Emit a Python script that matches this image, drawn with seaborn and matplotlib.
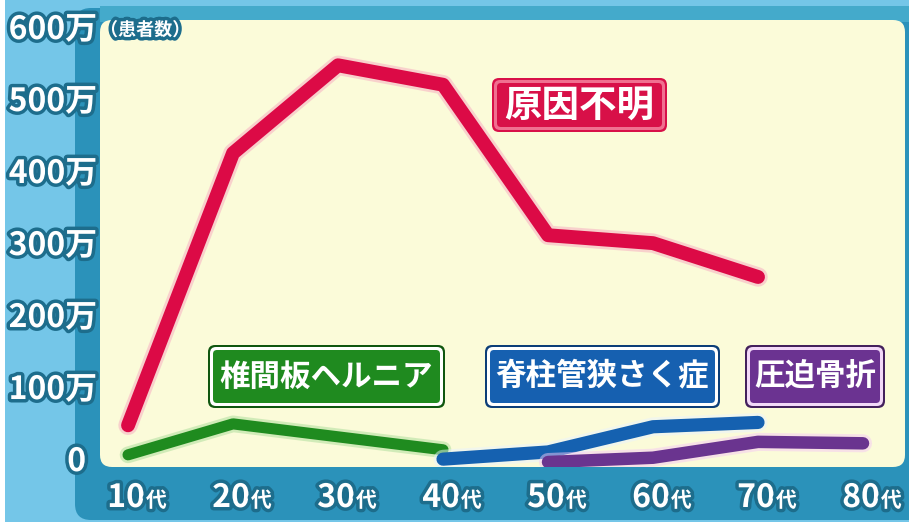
import numpy as np
import pandas as pd
import matplotlib
matplotlib.use("Agg")
import matplotlib.pyplot as plt
import matplotlib.patheffects as pe
import matplotlib.transforms as mtransforms
from matplotlib.patches import FancyBboxPatch, Rectangle
import seaborn as sns

sns.set_style("white")
plt.rcParams['font.family'] = ['Noto Sans CJK JP', 'DejaVu Sans']

# ---------------- data (患者数, 万人) ----------------
age_labels = ["10", "20", "30", "40", "50", "60", "70", "80"]
ages_unknown = [10, 20, 30, 40, 50, 60, 70]
vals_unknown = [51, 429, 551, 524, 315, 304, 257]      # 原因不明
ages_hernia = [10, 20, 30, 40]
vals_hernia = [10, 53, 35, 17]                          # 椎間板ヘルニア
ages_stenosis = [40, 50, 60, 70]
vals_stenosis = [4, 14, 49, 55]                         # 脊柱管狭さく症
ages_fracture = [50, 60, 70, 80]
vals_fracture = [0, 6, 28, 26]                          # 圧迫骨折
y_ticks = [0, 100, 200, 300, 400, 500, 600]
y_tick_labels = ["0", "100万", "200万", "300万", "400万", "500万", "600万"]

W, H = 909, 525
fig = plt.figure(figsize=(W / 100, H / 100), dpi=100)
fig.patch.set_facecolor("white")
ident = mtransforms.IdentityTransform()


def px_rect(x0, y0, x1, y1, r, **kw):
    # pixel coordinates with origin at top-left
    p = FancyBboxPatch((x0 + r, H - y1 + r), (x1 - x0) - 2 * r, (y1 - y0) - 2 * r,
                       boxstyle=f"round,pad={r}", transform=ident, **kw)
    fig.patches.append(p)
    return p


# background
fig.patches.append(Rectangle((5, H - 522), W - 5, 522, transform=ident,
                             facecolor="#74c6e8", edgecolor="none", zorder=-10))
px_rect(75, 8, 930, 520, 16, facecolor="#2b92ba", edgecolor="none", zorder=-9)
fig.patches.append(Rectangle((100, H - 22), W - 100, 16, transform=ident,
                             facecolor="#44aacb", edgecolor="none", zorder=-8))
px_rect(100, 20, 905, 467, 12, facecolor="#fbfbd9", edgecolor="none", zorder=-7)

# axes
ax = fig.add_axes([100 / W, 1 - 467 / H, 805 / W, 447 / H])
ax.set_facecolor("none")
ax.set_xlim(7.33, 84.0)
ax.set_ylim(-6.9, 613.9)
for s in ax.spines.values():
    s.set_visible(False)
ax.set_xticks([])
ax.set_yticks([])

series = [
    (ages_hernia, vals_hernia, "#1f8b1f", 8, "#a8dc98"),
    (ages_stenosis, vals_stenosis, "#1561b0", 9.5, "#e8f2ff"),
    (ages_fracture, vals_fracture, "#6a348f", 9, "#f4c8f4"),
    (ages_unknown, vals_unknown, "#dc0a46", 10, "#f7a8c0"),
]
for i, (xs, ys, col, lw, glow) in enumerate(series):
    df = pd.DataFrame({"age": xs, "val": ys})
    sns.lineplot(data=df, x="age", y="val", ax=ax, color=col, linewidth=lw,
                 solid_capstyle="round", solid_joinstyle="round", zorder=3 + i,
                 path_effects=[pe.Stroke(linewidth=lw + 4, foreground=glow, alpha=0.5),
                               pe.Normal()])
ax.set_xlabel("")
ax.set_ylabel("")

outline = [pe.withStroke(linewidth=5, foreground="#1d6d8c")]

# y tick labels
ytr = mtransforms.blended_transform_factory(fig.transFigure, ax.transData)
for v, lab in zip(y_ticks, y_tick_labels):
    xpos = 97 / W if v != 0 else 86 / W
    ax.text(xpos, v, lab, transform=ytr, ha="right", va="center", fontsize=23,
            fontweight="bold", color="white", path_effects=outline, clip_on=False)
ax.text(100 / W, 600, "（患者数）", transform=ytr, ha="left", va="center", fontsize=13,
        fontweight="bold", color="white", path_effects=outline, clip_on=False)

# x tick labels
xtr = mtransforms.blended_transform_factory(ax.transData, fig.transFigure)
for a, lab in zip(range(10, 90, 10), age_labels):
    ax.text(a + 1.6, 1 - 507 / H, lab, transform=xtr, ha="right", va="baseline",
            fontsize=23, fontweight="bold", color="white", path_effects=outline, clip_on=False)
    ax.text(a + 1.7, 1 - 507 / H, "代", transform=xtr, ha="left", va="baseline",
            fontsize=15, fontweight="bold", color="white", path_effects=outline, clip_on=False)

# series label boxes
boxes = [
    ("原因不明", 492, 78, 667, 132, "#d81048", "#f07090", "#d81048", 27),
    ("椎間板ヘルニア", 208, 345, 445, 408, "#1f8a1f", "white", "#0f560f", 22),
    ("脊柱管狭さく症", 485, 345, 720, 408, "#1660b0", "white", "#0c3e78", 22),
    ("圧迫骨折", 745, 345, 885, 408, "#6b3391", "#f2d8f8", "#43205c", 22),
]
for text, x0, y0, x1, y1, fc, inner, outer, fs in boxes:
    px_rect(x0, y0, x1, y1, 7, facecolor=outer, edgecolor="none", zorder=5)
    px_rect(x0 + 2, y0 + 2, x1 - 2, y1 - 2, 6, facecolor=inner, edgecolor="none", zorder=6)
    px_rect(x0 + 5, y0 + 5, x1 - 5, y1 - 5, 4, facecolor=fc, edgecolor="none", zorder=7)
    fig.text((x0 + x1) / 2 / W, 1 - (y0 + y1) / 2 / H, text, ha="center", va="center",
             fontsize=fs, fontweight="bold", color="white", zorder=8)

fig.savefig("out.png", dpi=100)
